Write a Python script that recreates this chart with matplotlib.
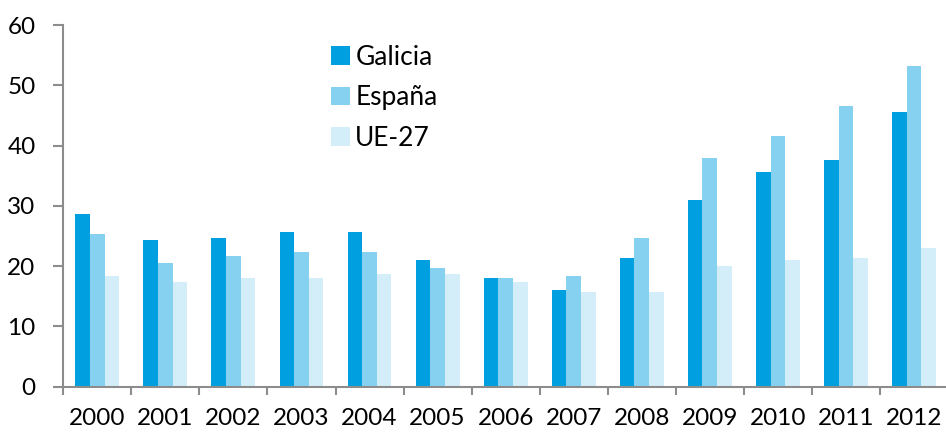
import matplotlib
matplotlib.use("Agg")
import matplotlib.pyplot as plt
import numpy as np

years = ["2000", "2001", "2002", "2003", "2004", "2005", "2006",
         "2007", "2008", "2009", "2010", "2011", "2012"]
galicia = [28.6, 24.3, 24.7, 25.7, 25.7, 21.0, 18.0, 16.0, 21.3, 30.9, 35.6, 37.6, 45.6]
espana = [25.3, 20.6, 21.7, 22.3, 22.3, 19.7, 18.0, 18.3, 24.7, 37.9, 41.6, 46.5, 53.2]
ue27 = [18.3, 17.3, 18.0, 18.0, 18.7, 18.7, 17.3, 15.7, 15.7, 20.0, 21.0, 21.3, 23.0]
series_names = ["Galicia", "España", "UE-27"]
colors = ["#009FDF", "#86D1F0", "#D3EEF8"]

plt.rcParams["font.family"] = ["Lato", "DejaVu Sans"]

W, H = 946, 432
fig = plt.figure(figsize=(W / 100, H / 100), dpi=100)
ax = fig.add_axes([63.3 / W, (H - 386.7) / H, (948 - 63.3) / W, (386.7 - 25) / H])

x = np.arange(len(years))
bw = 0.215
for i, (vals, name, c) in enumerate(zip([galicia, espana, ue27], series_names, colors)):
    ax.bar(x + (i - 1) * bw, vals, width=bw, color=c, label=name, linewidth=0)

ax.set_xlim(-0.5, len(years) - 0.5)
ax.set_ylim(0, 60)
ax.set_yticks(range(0, 61, 10))
ax.set_xticks(x)
ax.set_xticklabels(years)
ax.set_xticks(np.arange(-0.5, len(years), 1.0), minor=True)

spine_col = "#8C8C8C"
for s in ["top", "right"]:
    ax.spines[s].set_visible(False)
for s in ["left", "bottom"]:
    ax.spines[s].set_color(spine_col)
    ax.spines[s].set_linewidth(1.5)

ax.tick_params(axis="x", which="major", length=0, pad=15, labelsize=17.5, labelcolor="black")
ax.tick_params(axis="x", which="minor", length=6, width=1.5, color=spine_col, direction="out")
ax.tick_params(axis="y", length=7, width=1.5, color=spine_col, pad=13, labelsize=17.5,
               labelcolor="black")

fig.legend(loc="upper left", bbox_to_anchor=(331 / W, 1 - 45 / H), frameon=False,
           fontsize=19, handlelength=0.72, handleheight=0.72, handletextpad=0.2,
           labelspacing=0.58, borderpad=0, borderaxespad=0)

fig.savefig("out.png", dpi=100)
